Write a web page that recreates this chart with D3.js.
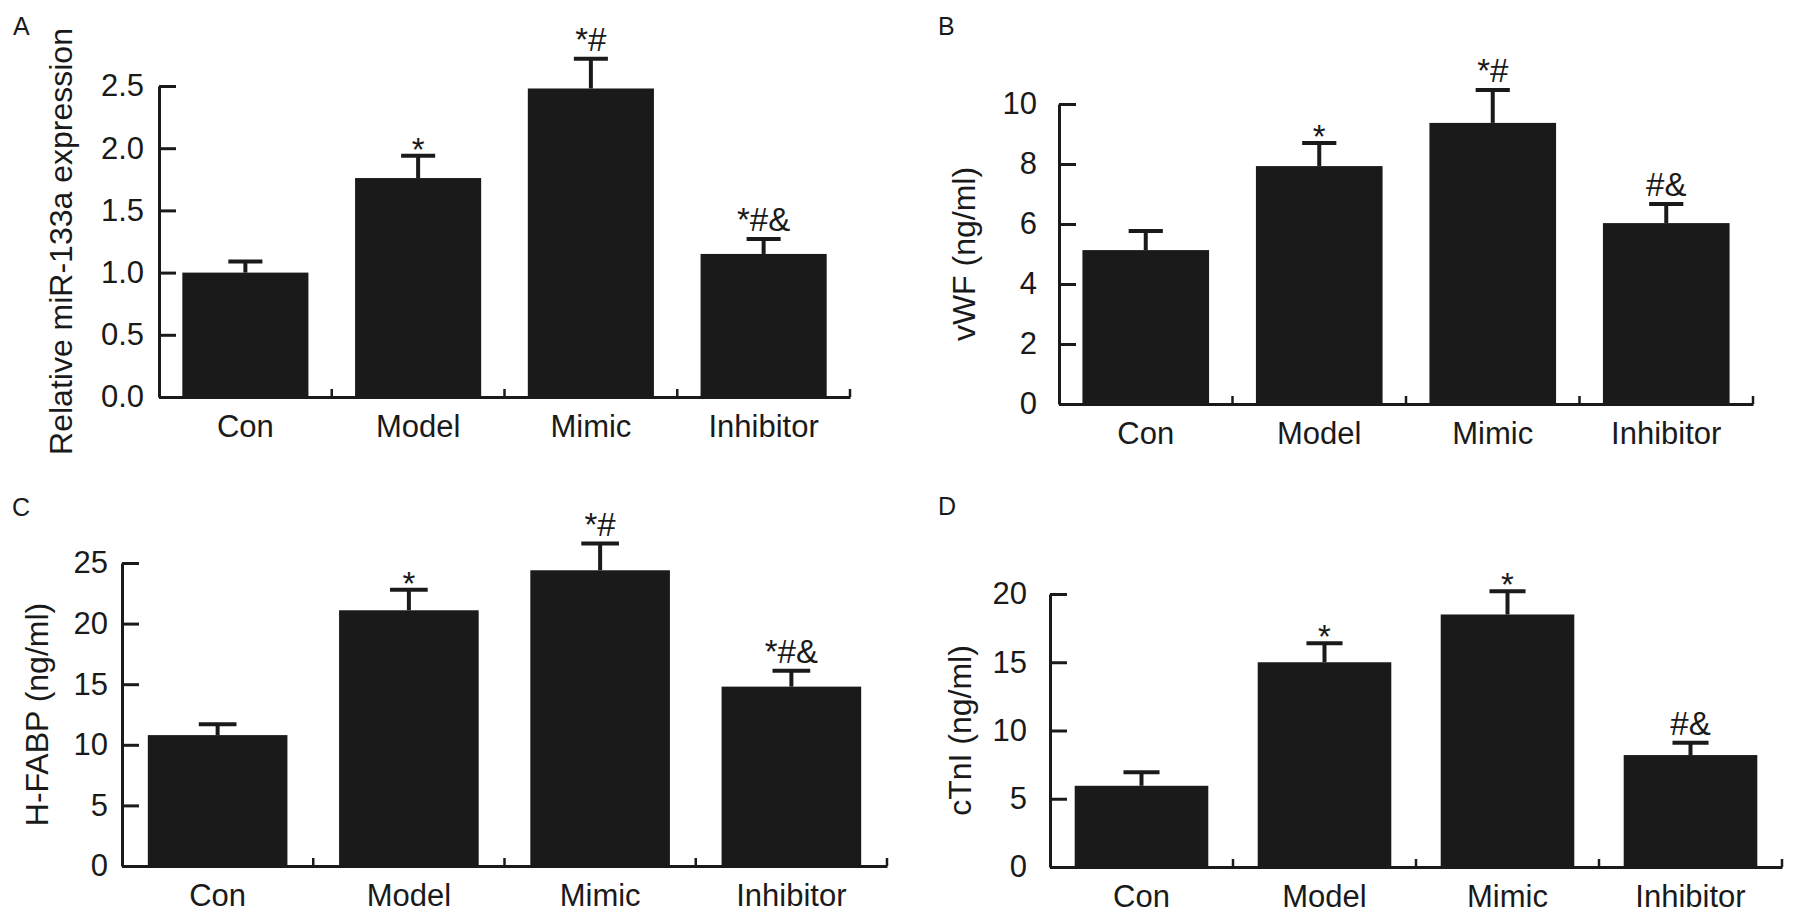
<!DOCTYPE html>
<html lang="en">
<head>
  <meta charset="UTF-8">
  <title>miR-133a bar charts</title>
  <script src="https://d3js.org/d3.v7.min.js"></script>
  <style>
    body { margin: 0; background: #fff; }
    svg { display: block; font-family: "Liberation Sans", Arial, sans-serif; }
    .axis path, .axis line { stroke: #1a1a1a; }
    .axis text { fill: #1a1a1a; }
  </style>
</head>
<body>
  <div id="chart"></div>

  <script>
    const categories = ["Con", "Model", "Mimic", "Inhibitor"];

    // panel A: relative miR-133a expression
    const mirMeans = [1.0, 1.76, 2.48, 1.15];
    const mirErr = [0.09, 0.18, 0.24, 0.12];
    const mirMarks = ["", "*", "*#", "*#&"];
    const mirTicks = [0, 0.5, 1.0, 1.5, 2.0, 2.5];

    // panel B: vWF
    const vwfMeans = [5.13, 7.93, 9.37, 6.03];
    const vwfErr = [0.64, 0.77, 1.1, 0.64];
    const vwfMarks = ["", "*", "*#", "#&"];
    const vwfTicks = [0, 2, 4, 6, 8, 10];

    // panel C: H-FABP
    const fabpMeans = [10.8, 21.1, 24.4, 14.8];
    const fabpErr = [0.9, 1.7, 2.2, 1.3];
    const fabpMarks = ["", "*", "*#", "*#&"];
    const fabpTicks = [0, 5, 10, 15, 20, 25];

    // panel D: cTnI
    const ctniMeans = [5.95, 15.0, 18.5, 8.2];
    const ctniErr = [1.0, 1.4, 1.7, 0.9];
    const ctniMarks = ["", "*", "*", "#&"];
    const ctniTicks = [0, 5, 10, 15, 20];

    const width = 1795;
    const height = 919;
    const ink = "#1a1a1a";

    const panels = [
      { letter: "A", lx: 13, ly: 35, title: "Relative miR-133a expression", means: mirMeans, err: mirErr, marks: mirMarks,
        ticks: mirTicks, fmt: d3.format(".1f"), x0: 159, x1: 850, yTop: 86, yZero: 397, titleX: 72, gap: 15 },
      { letter: "B", lx: 938, ly: 35, title: "vWF (ng/ml)", means: vwfMeans, err: vwfErr, marks: vwfMarks,
        ticks: vwfTicks, fmt: d3.format("d"), x0: 1059, x1: 1753, yTop: 104, yZero: 404, titleX: 975, gap: 22 },
      { letter: "C", lx: 12, ly: 516, title: "H-FABP (ng/ml)", means: fabpMeans, err: fabpErr, marks: fabpMarks,
        ticks: fabpTicks, fmt: d3.format("d"), x0: 122, x1: 887, yTop: 563, yZero: 866, titleX: 48, gap: 14 },
      { letter: "D", lx: 938, ly: 515, title: "cTnI (ng/ml)", means: ctniMeans, err: ctniErr, marks: ctniMarks,
        ticks: ctniTicks, fmt: d3.format("d"), x0: 1050, x1: 1782, yTop: 594, yZero: 867, titleX: 971, gap: 23 }
    ];

    const svg = d3.select("#chart").append("svg")
      .attr("width", width)
      .attr("height", height);

    svg.append("rect").attr("width", width).attr("height", height).attr("fill", "#fff");

    panels.forEach(p => {
      const g = svg.append("g");

      const x = d3.scaleBand()
        .domain(categories)
        .range([p.x0, p.x1])
        .paddingInner(0.27)
        .paddingOuter(0.135);

      const y = d3.scaleLinear()
        .domain([0, d3.max(p.ticks)])
        .range([p.yZero, p.yTop]);

      const rows = categories.map((c, i) => ({ cat: c, mean: p.means[i], err: p.err[i], mark: p.marks[i] }));

      // bars
      g.selectAll("rect.bar")
        .data(rows)
        .join("rect")
        .attr("class", "bar")
        .attr("x", d => x(d.cat))
        .attr("y", d => y(d.mean))
        .attr("width", x.bandwidth())
        .attr("height", d => y(0) - y(d.mean))
        .attr("fill", ink);

      // error bars (upper only)
      const capW = x.bandwidth() * 0.27;
      const eb = g.selectAll("g.err")
        .data(rows)
        .join("g")
        .attr("class", "err")
        .attr("stroke", ink)
        .attr("stroke-width", 4);
      eb.append("line")
        .attr("x1", d => x(d.cat) + x.bandwidth() / 2)
        .attr("x2", d => x(d.cat) + x.bandwidth() / 2)
        .attr("y1", d => y(d.mean))
        .attr("y2", d => y(d.mean + d.err));
      eb.append("line")
        .attr("x1", d => x(d.cat) + x.bandwidth() / 2 - capW / 2)
        .attr("x2", d => x(d.cat) + x.bandwidth() / 2 + capW / 2)
        .attr("y1", d => y(d.mean + d.err))
        .attr("y2", d => y(d.mean + d.err));

      // significance marks
      g.selectAll("text.mark")
        .data(rows.filter(d => d.mark))
        .join("text")
        .attr("class", "mark")
        .attr("x", d => x(d.cat) + x.bandwidth() / 2)
        .attr("y", d => y(d.mean + d.err) + (d.mark === "*" ? 5 : -8))
        .attr("text-anchor", "middle")
        .attr("font-size", 33)
        .attr("fill", ink)
        .text(d => d.mark);

      // y axis, ticks pointing inward
      g.append("g")
        .attr("class", "axis")
        .attr("transform", `translate(${p.x0},0)`)
        .call(d3.axisLeft(y).tickValues(p.ticks).tickFormat(p.fmt)
          .tickSizeInner(-17).tickSizeOuter(0).tickPadding(p.gap))
        .call(a => a.selectAll("path, line").attr("stroke-width", 3))
        .call(a => a.selectAll("text").attr("font-size", 31).attr("font-family", null));

      // x axis with category labels
      g.append("g")
        .attr("class", "axis")
        .attr("transform", `translate(0,${p.yZero})`)
        .call(d3.axisBottom(x).tickSize(0).tickPadding(18))
        .call(a => a.select("path").attr("stroke-width", 3))
        .call(a => a.selectAll("text").attr("font-size", 31).attr("font-family", null));

      // small upward ticks between categories
      const step = x.step();
      g.selectAll("line.sep")
        .data(d3.range(1, categories.length + 1))
        .join("line")
        .attr("class", "sep")
        .attr("x1", i => p.x0 + i * step)
        .attr("x2", i => p.x0 + i * step)
        .attr("y1", p.yZero)
        .attr("y2", p.yZero - 8)
        .attr("stroke", ink)
        .attr("stroke-width", 2.5);

      // axis title
      g.append("text")
        .attr("transform", `translate(${p.titleX},${(p.yTop + p.yZero) / 2}) rotate(-90)`)
        .attr("text-anchor", "middle")
        .attr("font-size", 32)
        .attr("fill", ink)
        .text(p.title);

      // panel letter
      g.append("text")
        .attr("x", p.lx)
        .attr("y", p.ly)
        .attr("font-size", 25)
        .attr("fill", ink)
        .text(p.letter);
    });
  </script>
</body>
</html>
